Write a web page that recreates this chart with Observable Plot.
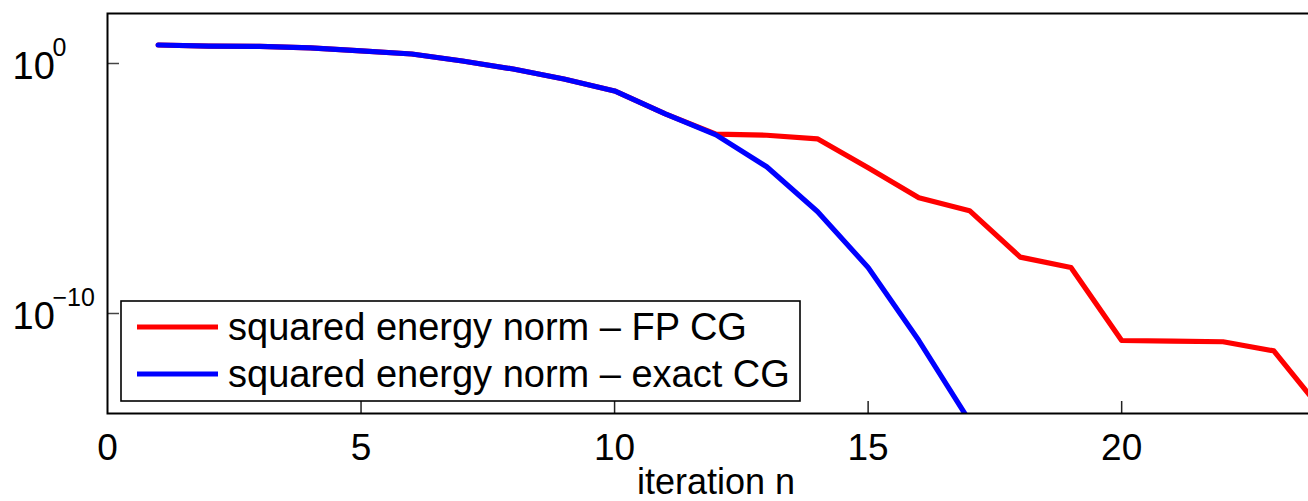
<!DOCTYPE html>
<html>
<head>
<meta charset="utf-8">
<script src="https://cdn.jsdelivr.net/npm/d3@7"></script>
<script src="https://cdn.jsdelivr.net/npm/@observablehq/plot@0.6"></script>
<style>
  html, body { margin: 0; padding: 0; background: #fff; overflow: hidden; width: 1308px; height: 501px; }
  #wrap { position: relative; width: 1325px; height: 501px; }
  #wrap svg { max-width: none !important; display: block; }
  #legend { position: absolute; left: 120px; top: 300px; }
</style>
</head>
<body>
<div id="wrap"></div>
<script>
// ---- data ----
const iterations = [1,2,3,4,5,6,7,8,9,10,11,12,13,14,15,16,17,18,19,20,21,22,23,24];
const fpCG = [5.5, 5.0, 4.8, 4.2, 3.2, 2.4, 1.26, 0.6, 0.24, 0.08, 9.6e-3, 1.5e-3,
              1.35e-3, 9.7e-4, 6.8e-5, 4.3e-6, 1.3e-6, 1.8e-8, 6.9e-9, 8.3e-12,
              7.8e-12, 7.4e-12, 3.2e-12, 1e-14];
const exactCG = [5.5, 5.0, 4.8, 4.2, 3.2, 2.4, 1.26, 0.6, 0.24, 0.08, 9.6e-3, 1.4e-3,
                 7.4e-5, 1.2e-6, 6.9e-9, 8.3e-12, 5e-15];
const seriesNames = ["squared energy norm \u2013 FP CG", "squared energy norm \u2013 exact CG"];
const seriesColors = ["#ff0000", "#0000ff"];
const xTicks = [5, 10, 15, 20];
const xTickLabels = [0, 5, 10, 15, 20];
const yTickExponents = [0, -10];
const xLabel = "iteration n";
const xDomain = [0, 24];
const yDomain = [1e-14, 1e2];

const font = '"Liberation Sans", Arial, Helvetica, sans-serif';

const fpData = fpCG.map((v, i) => ({n: iterations[i], v}));
const exData = exactCG.map((v, i) => ({n: iterations[i], v}));

const W = 1325, H = 501, mL = 107, mR = 1, mT = 13, mB = 88;
const plotW = W - mL - mR, plotH = H - mT - mB;

const chart = Plot.plot({
  width: W, height: H,
  marginLeft: mL, marginRight: mR, marginTop: mT, marginBottom: mB,
  x: {domain: xDomain, axis: null},
  y: {type: "log", domain: yDomain, axis: null},
  style: {fontFamily: font, background: "white", color: "black", maxWidth: "none"},
  marks: [
    Plot.line(fpData, {x: "n", y: "v", stroke: seriesColors[0], strokeWidth: 5.2, clip: true}),
    Plot.line(exData, {x: "n", y: "v", stroke: seriesColors[1], strokeWidth: 5.2, clip: true}),
    Plot.tickX(xTicks, {x: d => d, stroke: "#222", strokeWidth: 1.5, insetTop: plotH - 12}),
    Plot.tickY(yTickExponents, {y: d => Math.pow(10, d), stroke: "#444", strokeWidth: 1.5, insetRight: plotW - 12}),
    Plot.frame({stroke: "black", strokeWidth: 2}),
    Plot.text(xTickLabels, {x: d => d, frameAnchor: "bottom", text: d => String(d), lineAnchor: "top", dy: 20, fontSize: 37, fill: "black"}),
    Plot.text(yTickExponents, {y: d => Math.pow(10, d), frameAnchor: "left", text: () => "10", textAnchor: "start", lineAnchor: "bottom", dx: -95, dy: 15, fontSize: 38, fill: "black"}),
    Plot.text(yTickExponents, {y: d => Math.pow(10, d), frameAnchor: "left", text: d => d < 0 ? "\u2212" + Math.abs(d) : String(d), textAnchor: "start", lineAnchor: "bottom", dx: -55, dy: -8, fontSize: 25, fill: "black"}),
    Plot.text([xLabel], {frameAnchor: "bottom", text: d => d, lineAnchor: "bottom", dy: 80, fontSize: 36, fill: "black"})
  ]
});
document.getElementById("wrap").appendChild(chart);

// legend
const lg = d3.select("#wrap").append("svg")
  .attr("id", "legend")
  .attr("width", 682).attr("height", 103);
lg.append("rect").attr("x", 1).attr("y", 1).attr("width", 679).attr("height", 100)
  .attr("fill", "white").attr("stroke", "black").attr("stroke-width", 1.6);
seriesNames.forEach((name, i) => {
  const cy = 27 + i * 47;
  lg.append("line").attr("x1", 17).attr("x2", 98).attr("y1", cy).attr("y2", cy)
    .attr("stroke", seriesColors[i]).attr("stroke-width", 5.2);
  lg.append("text").attr("x", 108).attr("y", cy + 13)
    .attr("font-family", font).attr("font-size", 38).attr("fill", "black")
    .text(name);
});
</script>
</body>
</html>
